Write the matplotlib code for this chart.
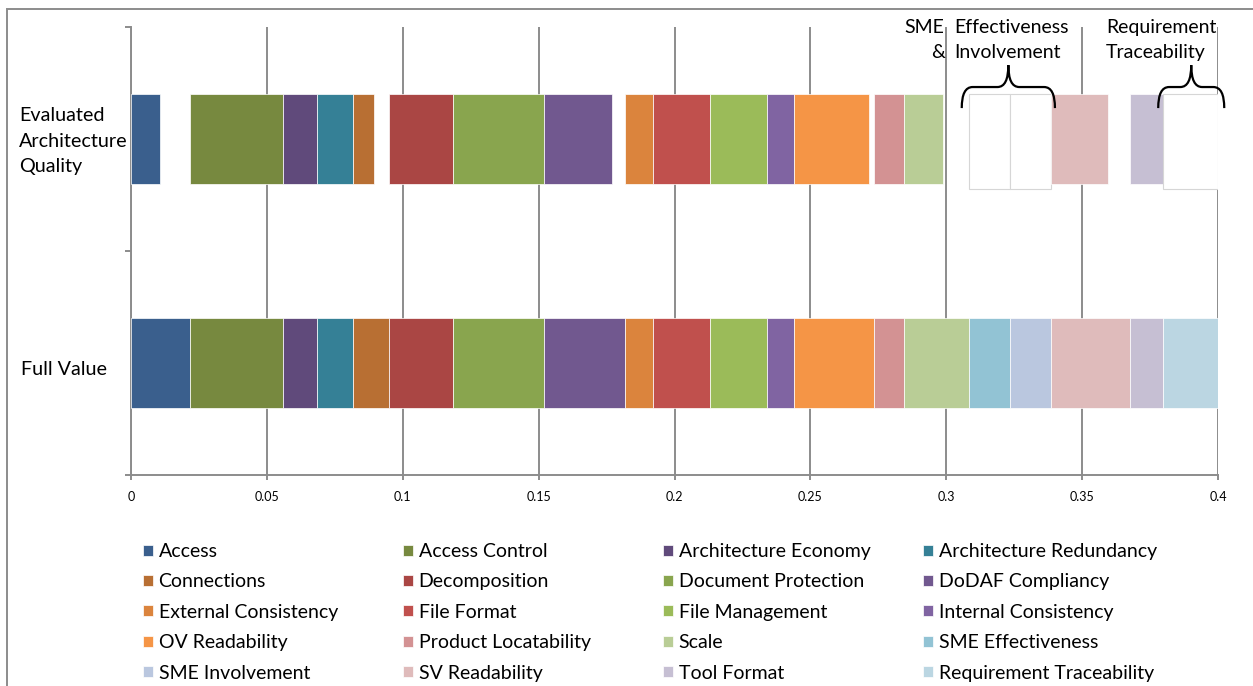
import numpy as np
import matplotlib.pyplot as plt
from matplotlib.patches import Rectangle
from matplotlib.path import Path
from matplotlib.patches import PathPatch
import matplotlib.transforms as mtransforms

plt.rcParams['font.family'] = ['Lato', 'DejaVu Sans']

criteria = ["Access", "Access Control", "Architecture Economy", "Architecture Redundancy",
            "Connections", "Decomposition", "Document Protection", "DoDAF Compliancy",
            "External Consistency", "File Format", "File Management", "Internal Consistency",
            "OV Readability", "Product Locatability", "Scale", "SME Effectiveness",
            "SME Involvement", "SV Readability", "Tool Format", "Requirement Traceability"]
full_value = [0.0218, 0.0340, 0.0128, 0.0132, 0.0130, 0.0238, 0.0333, 0.0300, 0.0101, 0.0212,
              0.0207, 0.0100, 0.0296, 0.0111, 0.0238, 0.0151, 0.0150, 0.0292, 0.0121, 0.0201]
evaluated = [0.0108, 0.0340, 0.0128, 0.0132, 0.0076, 0.0238, 0.0333, 0.0251, 0.0101, 0.0212,
             0.0207, 0.0100, 0.0277, 0.0111, 0.0142, 0.0, 0.0, 0.0211, 0.0121, 0.0]
colors = ["#3A5F8D", "#77893F", "#604A7B", "#358096", "#B86F33", "#AA4644", "#89A54E", "#71588F",
          "#DB843D", "#C0504D", "#9BBB59", "#8064A2", "#F59546", "#D39293", "#B9CD96", "#92C3D4",
          "#BAC7DF", "#DFBBBB", "#C6BFD3", "#BBD6E2"]
bar_labels = ["Full Value", "Evaluated\nArchitecture\nQuality"]
x_ticks = [0, 0.05, 0.1, 0.15, 0.2, 0.25, 0.3, 0.35, 0.4]

W, H = 1253, 686
fig = plt.figure(figsize=(W / 100, H / 100), dpi=100)
ax = fig.add_axes([131 / W, 1 - 475 / H, (1218 - 131) / W, (475 - 27) / H])

h = 0.4
lefts = np.concatenate([[0], np.cumsum(full_value)[:-1]])
handles = []
for i, name in enumerate(criteria):
    b = ax.barh(0, full_value[i], left=lefts[i], height=h, color=colors[i],
                edgecolor="#ffffff", linewidth=0.5, label=name, zorder=3)
    handles.append(b)
    if evaluated[i] > 0:
        ax.barh(1, evaluated[i], left=lefts[i], height=h, color=colors[i],
                edgecolor="#ffffff", linewidth=0.5, zorder=3)
    else:
        # criteria not evaluated: empty outlined box
        ax.barh(1 + h / 2 - (h + 0.022), full_value[i], left=lefts[i], height=h + 0.022,
                align="edge", color="white", edgecolor="#d6d6d6", linewidth=0.8, zorder=3)

ax.set_xlim(0, 0.4)
ax.set_ylim(-0.5, 1.5)
ax.set_xticks(x_ticks, [f"{t:g}" for t in x_ticks])
ax.xaxis.grid(True, color="#8c8c8c", linewidth=1.4, zorder=0)
ax.set_axisbelow(True)
ax.tick_params(axis="x", length=3.6, width=1.4, color="#8c8c8c", labelsize=9, pad=8)
ax.set_yticks([-0.5, 0.5, 1.5])
ax.set_yticklabels([])
ax.tick_params(axis="y", length=4.3, width=1.4, color="#8c8c8c")
for s in ["top", "right"]:
    ax.spines[s].set_visible(False)
for s in ["left", "bottom"]:
    ax.spines[s].set_color("#8c8c8c")
    ax.spines[s].set_linewidth(1.4)

trans = mtransforms.blended_transform_factory(fig.transFigure, ax.transData)
ax.text(21 / W, -0.03, bar_labels[0], transform=trans, fontsize=14.2, va="center", ha="left")
ax.text(19 / W, 0.99, bar_labels[1], transform=trans, fontsize=14.2, va="center", ha="left",
        multialignment="left", linespacing=1.6)

# annotations above the evaluated bar
fs = 14
ax.text(0.2994, 1.5, "SME", fontsize=fs, ha="right", va="center", clip_on=False)
ax.text(0.2994, 1.388, "&", fontsize=fs, ha="right", va="center", clip_on=False)
ax.text(0.3028, 1.5, "Effectiveness", fontsize=fs, ha="left", va="center", clip_on=False)
ax.text(0.3028, 1.388, "Involvement", fontsize=fs, ha="left", va="center", clip_on=False)
ax.text(0.3587, 1.5, "Requirement", fontsize=fs, ha="left", va="center", clip_on=False)
ax.text(0.3587, 1.388, "Traceability", fontsize=fs, ha="left", va="center", clip_on=False)


def brace(x0, x1, yb, yh, yt, r):
    xm = (x0 + x1) / 2
    verts = [(x0, yb), (x0, yh), (x0 + r, yh), (xm - r, yh), (xm, yh), (xm, yt),
             (xm, yh), (xm + r, yh), (x1 - r, yh), (x1, yh), (x1, yb)]
    codes = [Path.MOVETO, Path.CURVE3, Path.CURVE3, Path.LINETO, Path.CURVE3, Path.CURVE3,
             Path.CURVE3, Path.CURVE3, Path.LINETO, Path.CURVE3, Path.CURVE3]
    ax.add_patch(PathPatch(Path(verts, codes), fill=False, lw=1.6, color="black",
                           clip_on=False, zorder=5))


brace(0.3057, 0.3400, 1.138, 1.232, 1.330, 0.004)
brace(0.3780, 0.4023, 1.138, 1.232, 1.330, 0.004)

# legend in four columns, row-wise order
col_x = [143, 403, 663, 923]
for c in range(4):
    hs = [handles[r * 4 + c] for r in range(5)]
    fig.legend(handles=hs, labels=[criteria[r * 4 + c] for r in range(5)],
               loc="upper left", bbox_to_anchor=(col_x[c] / W, 1 - 543 / H),
               frameon=False, fontsize=14, borderpad=0, borderaxespad=0,
               handlelength=0.5, handleheight=0.5, handletextpad=0.3, labelspacing=0.69)

# outer chart border
fig.add_artist(Rectangle((7 / W, -0.1), 1.2, 1.1 - 9 / H, transform=fig.transFigure,
                         fill=False, edgecolor="#8c8c8c", linewidth=1.4))

fig.savefig("out.png", dpi=100)
